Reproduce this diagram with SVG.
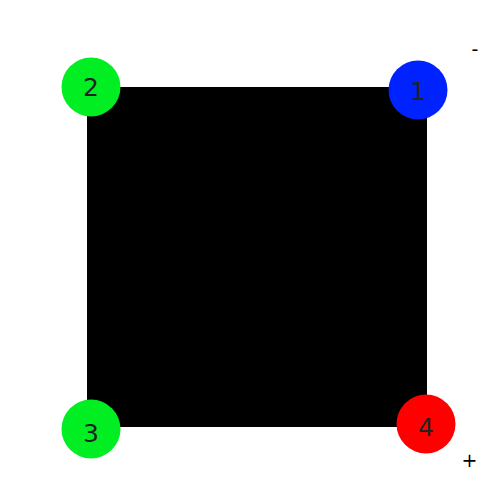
<svg xmlns="http://www.w3.org/2000/svg" width="500" height="500" viewBox="0 0 500 500">
<style>
.lbl{font-family:"DejaVu Sans",sans-serif;font-size:25px;fill:#222;text-anchor:middle;dominant-baseline:central}
.sign{font-family:"DejaVu Sans",sans-serif;font-size:19px;fill:#000;text-anchor:middle;dominant-baseline:central}
</style>
<rect width="500" height="500" fill="#fff"/>
<g id="square"><rect x="87" y="87" width="340" height="340" fill="#000"/></g>
<g id="connectors"></g>
<g id="node1"><circle cx="418" cy="90" r="29.5" fill="#0022ff"/><text class="lbl" x="418" y="91">1</text></g>
<g id="node2"><circle cx="91" cy="87" r="29.5" fill="#00ee22"/><text class="lbl" x="91" y="87">2</text></g>
<g id="node3"><circle cx="91" cy="429" r="29.5" fill="#00ee22"/><text class="lbl" x="91" y="433">3</text></g>
<g id="node4"><circle cx="426" cy="424" r="29.5" fill="#ff0000"/><text class="lbl" x="426" y="427">4</text></g>
<text class="sign" x="475" y="49">-</text>
<text class="sign" x="469.5" y="460">+</text>
</svg>
